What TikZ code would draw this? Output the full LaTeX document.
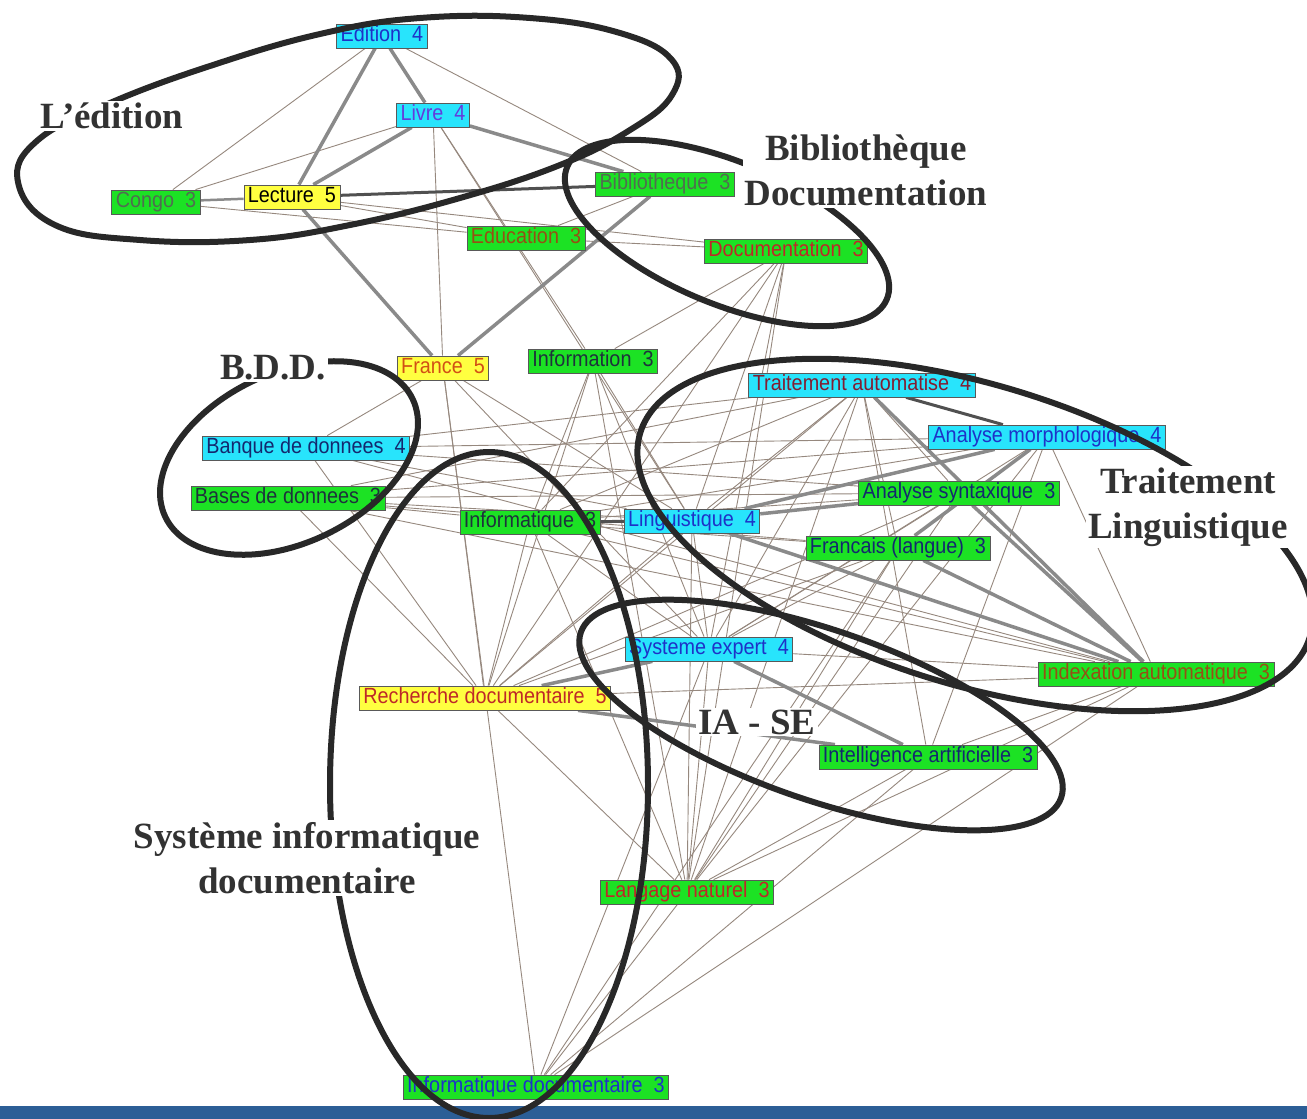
\documentclass[tikz,border=0pt]{standalone}
\usepackage{fontspec}
\newfontfamily\nodefont[FakeStretch=0.9]{Liberation Sans}
\newfontfamily\lblfont{Liberation Serif}
\usetikzlibrary{backgrounds}
\definecolor{cy}{RGB}{40,228,252}
\definecolor{gr}{RGB}{28,226,36}
\definecolor{ye}{RGB}{255,255,64}
\definecolor{edgec}{RGB}{150,136,126}
\definecolor{thickc}{RGB}{138,138,138}
\definecolor{darkc}{RGB}{80,80,80}
\definecolor{ellc}{RGB}{40,40,40}
\definecolor{lblc}{RGB}{50,50,50}
\definecolor{barc}{RGB}{44,94,150}
\definecolor{tblue}{RGB}{30,50,200}
\definecolor{tpurp}{RGB}{100,60,220}
\definecolor{tnavy}{RGB}{20,40,110}
\definecolor{tdark}{RGB}{30,50,60}
\definecolor{tgray}{RGB}{80,110,80}
\definecolor{tbrown}{RGB}{150,80,20}
\definecolor{tred}{RGB}{190,40,40}
\definecolor{torange}{RGB}{210,80,20}
\definecolor{tdred}{RGB}{130,30,50}
\tikzset{
 kw/.style={draw=black!65, line width=0.8pt, font=\nodefont\fontsize{22}{22}\selectfont, inner xsep=4pt, inner ysep=0pt, text height=16pt, text depth=4.5pt, minimum height=24pt},
 cyk/.style={kw, fill=cy},
 grk/.style={kw, fill=gr},
 yek/.style={kw, fill=ye},
 thinedge/.style={draw=edgec, line width=0.9pt},
 thickedge/.style={draw=thickc, line width=3.5pt},
 darkedge/.style={draw=darkc, line width=3pt},
 grp/.style={draw=ellc, line width=6pt},
 lbl/.style={fill=white, text=lblc, font=\lblfont\bfseries\fontsize{37}{45}\selectfont, align=center, inner sep=2pt},
}
\begin{document}
\begin{tikzpicture}[x=1pt,y=-1pt]
\useasboundingbox (0,0) rectangle (1307,1119);
% nodes
\node[cyk, text=tblue] (edi) at (382,36) {Edition~~4};
\node[cyk, text=tpurp] (liv) at (433,115) {Livre~~4};
\node[grk, text=tgray] (con) at (156,202) {Congo~~3};
\node[yek, text=black] (lec) at (292,197) {Lecture~~5};
\node[grk, text=tgray] (bib) at (665,184) {Bibliotheque~~3};
\node[grk, text=tbrown] (edu) at (526,238) {Education~~3};
\node[grk, text=tred] (doc) at (786,251) {Documentation~~3};
\node[yek, text=torange] (fra) at (443,368) {France~~5};
\node[grk, text=tdark] (infm) at (593,361) {Information~~3};
\node[cyk, text=tdred] (tra) at (862,385) {Traitement automatise~~4};
\node[cyk, text=tnavy] (ban) at (306,448) {Banque de donnees~~4};
\node[cyk, text=tblue] (amo) at (1047,437) {Analyse morphologique~~4};
\node[grk, text=tdark] (bas) at (288,498) {Bases de donnees~~3};
\node[grk, text=tnavy] (asy) at (959,493) {Analyse syntaxique~~3};
\node[grk, text=tdark] (inf) at (530,522) {Informatique~~3};
\node[cyk, text=tblue] (lin) at (692,521) {Linguistique~~4};
\node[grk, text=tnavy] (fre) at (898,548) {Francais (langue)~~3};
\node[cyk, text=tblue] (sex) at (709,649) {Systeme expert~~4};
\node[grk, text=tbrown] (ind) at (1156,674) {Indexation automatique~~3};
\node[yek, text=tred] (rec) at (485,698) {Recherche documentaire~~5};
\node[grk, text=tnavy] (iar) at (928,757) {Intelligence artificielle~~3};
\node[grk, text=tred] (lan) at (687,892) {Langage naturel~~3};
\node[grk, text=tblue] (idoc) at (536,1087) {Informatique documentaire~~3};
% edges
\begin{pgfonlayer}{background}
\fill[white] (0,0) rectangle (1307,1119);
\foreach \a/\b in {edi/con,edi/bib,liv/con,liv/fra,liv/infm,liv/lin,con/edu,lec/edu,lec/doc,edu/doc,edu/bib,
 doc/infm,doc/inf,doc/lin,doc/rec,doc/sex,doc/lan,
 fra/rec,fra/ban,fra/lin,fra/idoc,fra/sex,
 infm/inf,infm/rec,infm/lin,infm/sex,infm/lan,
 ban/tra,ban/amo,ban/asy,ban/ind,ban/lin,ban/rec,
 bas/inf,bas/lin,bas/amo,bas/asy,bas/fre,bas/ind,bas/rec,bas/tra,
 tra/inf,tra/lin,tra/asy,tra/fre,tra/sex,tra/iar,tra/lan,tra/rec,
 amo/inf,amo/ind,amo/iar,amo/lan,amo/sex,
 asy/rec,asy/lan,asy/sex,asy/inf,
 fre/lan,fre/sex,fre/rec,fre/inf,fre/idoc,
 inf/rec,inf/lan,inf/ind,inf/sex,
 lin/sex,lin/lan,lin/rec,
 sex/lan,sex/idoc,sex/ind,
 rec/ind,rec/lan,
 iar/lan,iar/idoc,iar/ind,ind/lan,ind/idoc,lan/idoc}
 \draw[thinedge] (\a) -- (\b);
\foreach \a/\b in {edi/lec,edi/liv,liv/lec,liv/bib,lec/fra,bib/fra,lin/amo,lin/asy,lin/ind,asy/ind,fre/amo,tra/ind,fre/ind,sex/iar,rec/sex,rec/iar}
 \draw[thickedge] (\a) -- (\b);
\draw[thickedge, line width=2.5pt] (con) -- (lec);
\draw[darkedge] (lec) -- (bib);
\draw[darkedge] (tra) -- (amo);
\draw[darkedge] (inf) -- (lin);
\end{pgfonlayer}
% bottom bar
\fill[barc] (0,1106) rectangle (1307,1119);
% groups
\draw[grp] plot[smooth cycle, tension=0.7] coordinates {(18,182) (38,140) (110,103) (210,66) (320,34) (420,18) (530,18) (620,33) (672,60) (672,95) (630,130) (560,165) (460,198) (350,225) (250,240) (140,240) (55,225)};
\draw[grp, rotate around={-22.5:(727,233)}] (727,233) ellipse [x radius=173, y radius=71];
\draw[grp, rotate around={25.5:(289,458)}] (289,458) ellipse [x radius=137, y radius=85];
\draw[grp] (489,785) ellipse [x radius=159, y radius=333];
\draw[grp, rotate around={-17:(975,535)}] (975,535) ellipse [x radius=350, y radius=150];
\draw[grp, rotate around={-19:(821,715)}] (821,715) ellipse [x radius=254, y radius=85];
% labels
\node[lbl] (l1) at (112,116) {L’édition};
\node[lbl] (l2) at (866,170) {Bibliothèque\\Documentation};
\node[lbl] (l3) at (273,368) {B.D.D.};
\node[lbl] (l4) at (1188,507) {Traitement\\Linguistique};
\node[lbl] (l5) at (757,722) {IA - SE};
\node[lbl] (l6) at (307,858) {Système informatique\\documentaire};
\end{tikzpicture}
\end{document}
